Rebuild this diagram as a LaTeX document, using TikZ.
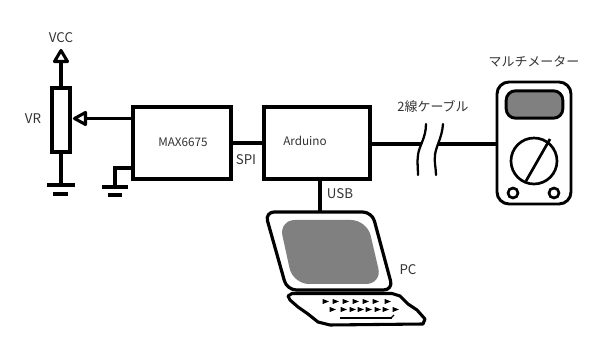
\documentclass[tikz,border=0pt]{standalone}
\usepackage{fontspec}
\setmainfont{Noto Sans CJK JP}
\usetikzlibrary{calc}
\definecolor{labelgrey}{HTML}{333333}
\definecolor{panelgrey}{HTML}{808080}
\tikzset{
  x=0.75pt,y=-0.75pt,
  wire/.style={line width=2.3pt,line cap=butt},
  thin wire/.style={line width=1.7pt,line cap=round},
  blockbox/.style={draw,line width=2.6pt,fill=white,minimum height=54pt,inner sep=0pt},
  vrbox/.style={draw,line width=2.3pt,fill=white,minimum width=13.5pt,minimum height=48pt,inner sep=0pt},
  label/.style={text=labelgrey,font=\fontsize{10pt}{12pt}\selectfont,inner sep=0pt},
  blocklabel/.style={text=labelgrey,font=\fontsize{8.8pt}{11pt}\selectfont,inner sep=0pt},
  cjklabel/.style={text=labelgrey,font=\fontsize{9.7pt}{12pt}\selectfont,inner sep=0pt},
  headshape/.style={draw,line width=2.3pt,fill=white,line join=round},
  dot/.style={circle,draw,line width=2pt,minimum size=7.5pt,inner sep=0pt},
  keycap/.style={fill=black,draw=black,line width=0.5pt},
}
\begin{document}
\begin{tikzpicture}
\useasboundingbox (0,0) rectangle (590,352);

% Blocks
\node[vrbox] (vr) at (61,120) {};
\node[blockbox,minimum width=73.5pt] (max) at (182,143) {};
\node[blockbox,minimum width=79.5pt] (ard) at (317,143) {};
\node[blocklabel] (maxt) at (183,142) {MAX6675};
\node[blocklabel] (ardt) at (305,141) {Arduino};

% Supply rail with its open arrowhead, and the potentiometer
\coordinate (vcc) at (61,61);
\draw[wire] (vr.north) -- (vcc);
\path[headshape] (54.5,61.5) -- (67.5,61.5) -- (61,50.5) -- cycle;
\coordinate (gndA) at (61,185);
\draw[wire] (vr.south) -- (gndA);
\draw[wire] (47,185) -- (75,185);
\draw[line width=2.8pt] (53,194) -- (68,194);

% Wiper
\coordinate (wiper) at (85,118.5);
\draw[wire] (max.west |- wiper) -- (wiper);
\path[headshape] (85.5,112.5) -- (85.5,124.5) -- (74.5,118.5) -- cycle;

% Ground of the converter
\coordinate (gndB) at (115,187);
\draw[wire] (max.west |- 0,168) -| (gndB);
\draw[wire] (102,187) -- (128,187);
\draw[line width=2.8pt] (108,195) -- (122,195);

% Bus between the blocks
\draw[wire] (max.east |- 0,143) -- (ard.west |- 0,143);

% Multimeter
\node[draw,line width=2.2pt,fill=white,rounded corners=9pt,minimum width=55.5pt,minimum height=91.5pt,inner sep=0pt] (meter) at (534,143) {};
\node[draw,line width=2.2pt,fill=panelgrey,rounded corners=7pt,minimum width=42.5pt,minimum height=20.5pt,inner sep=0pt] (display) at (534.5,104.5) {};
\node[circle,draw,line width=2pt,minimum size=34.5pt,inner sep=0pt] (dial) at (534,161) {};
\coordinate (needleA) at (550,139);
\coordinate (needleB) at (526,181);
\draw[line width=2pt] (needleA) -- (needleB);
\node[dot] (holeA) at (513,193) {};
\node[dot] (holeB) at (554,193) {};

% Two-wire cable with its break
\coordinate (breakA) at (422,144);
\coordinate (breakB) at (438,144);
\draw[wire] (ard.east |- 0,144) -- (breakA);
\draw[wire] (breakB) -- (meter.west |- 0,144);
\draw[thin wire] (426,124) .. controls (426,138) and (419,146) .. (418,155) .. controls (417,162) and (418,168) .. (418,175);
\draw[thin wire] (443,124) .. controls (442,138) and (436,146) .. (435,155) .. controls (434,162) and (436,168) .. (436,175);

% Laptop lid
\coordinate (lidtop) at (320,212);
\draw[wire] (320,179) -- (lidtop);
\draw[line width=2.4pt,fill=white,rounded corners=7pt,line join=round] (265,212) -- (372,212) -- (393,290) -- (287,290) -- cycle;
\fill[panelgrey,rounded corners=12pt] (279,220) -- (367,220) -- (382,284) -- (293,284) -- cycle;

% Laptop keyboard
\draw[line width=2.3pt,line join=round,fill=white] (292,293.5) -- (392,293.5) -- (400,296) -- (408,304) -- (417,310) -- (425,319) -- (423,324) -- (330,325) -- (318,322) -- (308,314) -- (298,307) -- (290,300) -- (288,296) -- cycle;
\foreach \kx in {325,335,345,355,365,375,387}
  \filldraw[keycap] (\kx-2,299.5) -- (\kx+3,301.5) -- (\kx-2,303.5) -- cycle;
\foreach \kx in {332,343,352,360,368,377,385,395}
  \filldraw[keycap] (\kx-2,307.5) -- (\kx+3,309.5) -- (\kx-2,311.5) -- cycle;
\draw[line width=1pt] (340,318) -- (392,318);
\draw[line width=1pt] (391,318) -- (394,315);

% Labels
\node[label] (vcct) at (61,38) {VCC};
\node[label] (vrt) at (33,119) {VR};
\node[label] (spit) at (246,160) {SPI};
\node[label] (usbt) at (340,194) {USB};
\node[label] (pct) at (408,270) {PC};
\node[cjklabel] (cablet) at (433,106) {2線ケーブル};
\node[cjklabel] (metert) at (534,62) {マルチメーター};
\end{tikzpicture}
\end{document}
